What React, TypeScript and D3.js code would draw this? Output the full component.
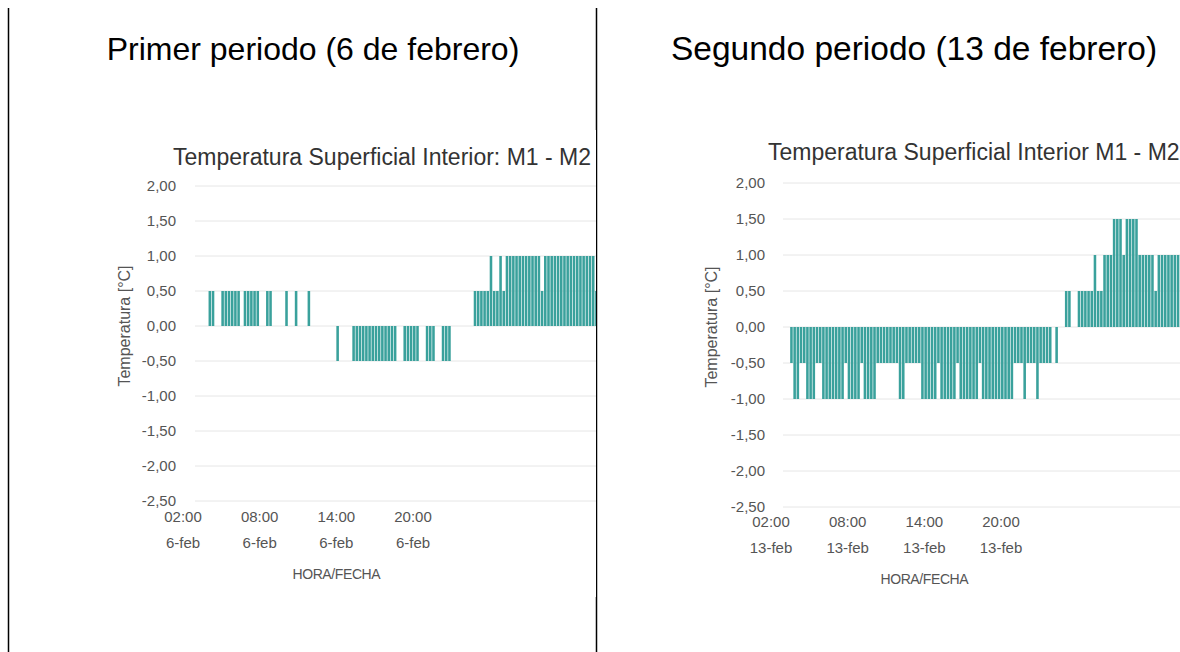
import * as d3 from "d3";

// 15-minute readings from 02:00, temperature difference M1 - M2 (°C)
const period1Values = [
  0, 0, 0, 0, 0, 0, 0, 0, 0.5, 0.5, 0, 0,
  0.5, 0.5, 0.5, 0.5, 0.5, 0.5, 0, 0.5, 0.5, 0.5, 0.5, 0.5,
  0, 0, 0.5, 0.5, 0, 0, 0, 0, 0.5, 0, 0, 0.5,
  0, 0, 0, 0.5, 0, 0, 0, 0, 0, 0, 0, 0,
  -0.5, 0, 0, 0, 0, -0.5, -0.5, -0.5, -0.5, -0.5, -0.5, -0.5,
  -0.5, -0.5, -0.5, -0.5, -0.5, -0.5, -0.5, 0, 0, -0.5, -0.5, -0.5,
  -0.5, -0.5, 0, 0, -0.5, -0.5, -0.5, 0, 0, -0.5, -0.5, -0.5,
  0, 0, 0, 0, 0, 0, 0, 0.5, 0.5, 0.5, 0.5, 0.5,
  1, 0.5, 0.5, 1, 0.5, 1, 1, 1, 1, 1, 1, 1,
  1, 1, 1, 1, 0.5, 1, 1, 1, 1, 1, 1, 1,
  1, 1, 1, 1, 1, 1, 1, 1, 1, 0.5, 0.5, 0.5,
];

const period2Values = [
  0, 0, 0, 0, 0, 0, -0.5, -1, -1, -0.5, -0.5, -1,
  -1, -1, -0.5, -0.5, -1, -1, -1, -1, -1, -1, -1, -0.5,
  -1, -1, -1, -1, -0.5, -1, -1, -1, -1, -0.5, -0.5, -0.5,
  -0.5, -0.5, -0.5, -0.5, -1, -1, -0.5, -0.5, -0.5, -0.5, -0.5, -1,
  -1, -1, -1, -1, -0.5, -1, -1, -1, -1, -1, -0.5, -1,
  -1, -1, -1, -1, -1, -0.5, -1, -1, -1, -1, -1, -1,
  -1, -1, -1, -1, -0.5, -0.5, -0.5, -1, -0.5, -0.5, -0.5, -1,
  -0.5, -0.5, -0.5, -0.5, 0, -0.5, 0, 0, 0.5, 0.5, 0, 0,
  0.5, 0.5, 0.5, 0.5, 0.5, 1, 0.5, 0.5, 1, 1, 1, 1.5,
  1.5, 1.5, 1, 1.5, 1.5, 1.5, 1.5, 1, 1, 1, 1, 1,
  0.5, 1, 1, 1, 1, 1, 1, 1, 1, 1, 1, 1,
];

const yTicks = [2, 1.5, 1, 0.5, 0, -0.5, -1, -1.5, -2, -2.5];
const hourLabels = ["02:00", "08:00", "14:00", "20:00"];
const labelIndex = [0, 24, 48, 72];

const FONT = "'Liberation Sans', Arial, sans-serif";
const BAR = "#3aa19c";
const fmt = (v: number) => v.toFixed(2).replace(".", ",");

interface ChartProps {
  id: string;
  values: number[];
  title: string;
  day: string;
  box: [number, number, number, number]; // visible image area
  originX: number;
  gridLeft: number;
  yTop: number;
  yBottom: number;
  tickRight: number;
  axisTitleX: number;
  titleX: number;
  titleY: number;
  row1Y: number;
}

function Chart(p: ChartProps) {
  const step = 3.19;
  const x = d3
    .scaleBand<number>()
    .domain(d3.range(p.values.length))
    .range([p.originX, p.originX + p.values.length * step])
    .paddingInner(0.2);
  const y = d3.scaleLinear().domain([-2.5, 2]).range([p.yBottom, p.yTop]);
  const [bx, by, bw, bh] = p.box;
  const right = bx + bw;

  return (
    <g>
      <defs>
        <clipPath id={p.id}>
          <rect x={bx} y={by} width={bw} height={bh} />
        </clipPath>
      </defs>
      <g clipPath={`url(#${p.id})`}>
        <rect x={bx} y={by} width={bw} height={bh} fill="#fff" />
        {yTicks.map((t) => (
          <line
            key={t}
            x1={p.gridLeft}
            x2={right}
            y1={y(t)}
            y2={y(t)}
            stroke="#e6e6e6"
            strokeWidth={1}
          />
        ))}
        {p.values.map((v, i) =>
          v === 0 ? null : (
            <rect
              key={i}
              x={x(i)}
              width={x.bandwidth()}
              y={y(Math.max(0, v))}
              height={Math.abs(y(v) - y(0))}
              fill={BAR}
            />
          )
        )}
        <text
          x={p.titleX}
          y={p.titleY}
          fontFamily={FONT}
          fontSize={23}
          fill="#333"
        >
          {p.title}
        </text>
        {yTicks.map((t) => (
          <text
            key={t}
            x={p.tickRight}
            y={y(t) + 5}
            textAnchor="end"
            fontFamily={FONT}
            fontSize={15}
            fill="#555"
          >
            {fmt(t)}
          </text>
        ))}
        <text
          transform={`translate(${p.axisTitleX},${y(0)}) rotate(-90)`}
          textAnchor="middle"
          fontFamily={FONT}
          fontSize={16}
          fill="#555"
        >
          Temperatura [°C]
        </text>
        {hourLabels.map((h, k) => (
          <g key={h} fontFamily={FONT} fontSize={15} fill="#555" textAnchor="middle">
            <text x={x(labelIndex[k])} y={p.row1Y}>
              {h}
            </text>
            <text x={x(labelIndex[k])} y={p.row1Y + 26}>
              {p.day}
            </text>
          </g>
        ))}
        <text
          x={x(labelIndex[2])}
          y={p.row1Y + 57}
          textAnchor="middle"
          fontFamily={FONT}
          fontSize={14}
          letterSpacing={-0.4}
          fill="#555"
        >
          HORA/FECHA
        </text>
      </g>
    </g>
  );
}

export default function App() {
  return (
    <svg
      width={1180}
      height={652}
      style={{ position: "absolute", left: 0, top: 0, background: "#fff" }}
    >
      <line x1={8.5} x2={8.5} y1={8} y2={652} stroke="#000" strokeWidth={1.5} />
      <line x1={596.5} x2={596.5} y1={8} y2={652} stroke="#000" strokeWidth={1.5} />
      <text x={313} y={60} textAnchor="middle" fontFamily={FONT} fontSize={32} fill="#000">
        Primer periodo (6 de febrero)
      </text>
      <text x={914} y={60} textAnchor="middle" fontFamily={FONT} fontSize={33.5} fill="#000">
        Segundo periodo (13 de febrero)
      </text>
      <Chart
        id="c1"
        values={period1Values}
        title="Temperatura Superficial Interior: M1 - M2"
        day="6-feb"
        box={[100, 130, 496, 467]}
        originX={183}
        gridLeft={195}
        yTop={186}
        yBottom={501}
        tickRight={176}
        axisTitleX={130}
        titleX={173}
        titleY={165}
        row1Y={522}
      />
      <Chart
        id="c2"
        values={period2Values}
        title="Temperatura Superficial Interior M1 - M2"
        day="13-feb"
        box={[690, 130, 490, 467]}
        originX={771}
        gridLeft={783}
        yTop={183}
        yBottom={507}
        tickRight={765}
        axisTitleX={717}
        titleX={768}
        titleY={160}
        row1Y={527}
      />
    </svg>
  );
}
